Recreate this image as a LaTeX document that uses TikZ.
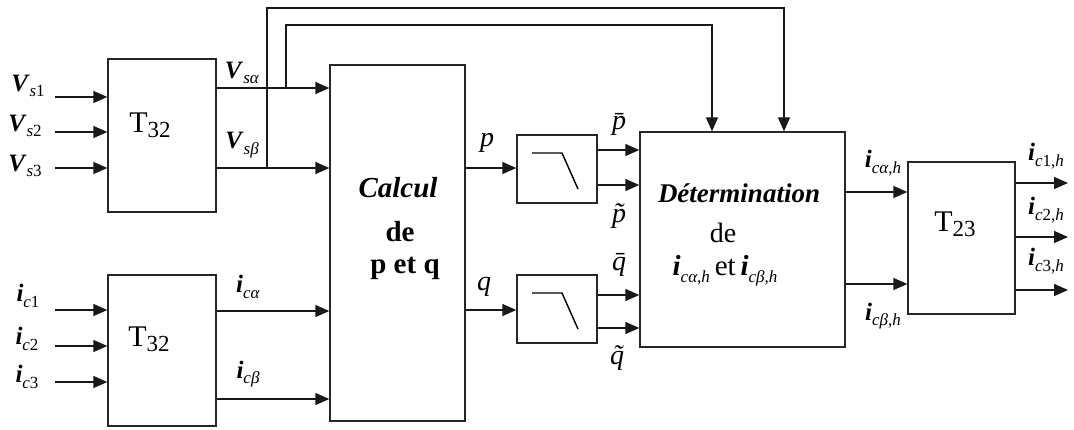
\documentclass[tikz,border=0pt]{standalone}
\usepackage{fontspec}
\setmainfont{Liberation Serif}
\usetikzlibrary{arrows.meta,calc}
\newcommand{\sig}[2]{\textbf{\textit{#1}}\raisebox{-0.5ex}{\fontsize{17}{19}\selectfont #2}}
\newcommand{\Tsub}[1]{T\raisebox{-0.35ex}{\fontsize{23}{25}\selectfont #1}}
\tikzset{
  box/.style={draw=black!85, line width=1.4pt, inner sep=0pt},
  wire/.style={line width=1.5pt, black!90},
  arr/.style={wire, -{Triangle[length=14pt,width=12pt]}},
  lab/.style={inner sep=0pt, font=\fontsize{25}{27}\selectfont},
  pq/.style={inner sep=0pt, font=\fontsize{28}{30}\selectfont\itshape},
  big/.style={inner sep=0pt, font=\fontsize{30}{32}\selectfont},
}
\begin{document}
\begin{tikzpicture}[x=1pt,y=-1pt]
\useasboundingbox (0,0) rectangle (1074,429);
% boxes
\node[box, minimum width=108, minimum height=153] (t1) at (162,135.5) {};
\node[box, minimum width=108, minimum height=151] (t2) at (162,350.5) {};
\node[box, minimum width=135, minimum height=356] (calc) at (397.5,243) {};
\node[box, minimum width=80, minimum height=68] (f1) at (557,169) {};
\node[box, minimum width=80, minimum height=68] (f2) at (557,309) {};
\node[box, minimum width=205, minimum height=215] (det) at (742.5,239.5) {};
\node[box, minimum width=107, minimum height=152] (t23) at (961.5,238) {};
% box texts
\node[big] (t1txt) at (150,125) {\Tsub{32}};
\node[big] (t2txt) at (149,339) {\Tsub{32}};
\node[big] (t23txt) at (955,224) {\Tsub{23}};
\node[big, font=\fontsize{29}{31}\selectfont\bfseries\itshape] (c1) at (398,188) {Calcul};
\node[big, font=\fontsize{29}{31}\selectfont\bfseries] (c2) at (400,232) {de};
\node[big, font=\fontsize{29}{31}\selectfont\bfseries] (c3) at (405,268) {p et q};
\node[big, font=\fontsize{27}{30}\selectfont\bfseries\itshape] (d1) at (739,193) {Détermination};
\node[big, font=\fontsize{28}{30}\selectfont] (d2) at (723,233) {de};
\node[big, font=\fontsize{29}{31}\selectfont] (d3) at (725,271) {\sig{i}{\textit{cα},\textit{h}}\,et\,\sig{i}{\textit{cβ},\textit{h}}};
% filter symbols
\draw[line width=1.4pt] ($(f1.center)+(-25,-16)$) -- ($(f1.center)+(5,-16)$) -- ($(f1.center)+(21,20)$);
\draw[line width=1.4pt] ($(f2.center)+(-25,-16)$) -- ($(f2.center)+(5,-16)$) -- ($(f2.center)+(21,20)$);
% input coordinates
\coordinate (v1) at (55,97);
\coordinate (v2) at (55,132);
\coordinate (v3) at (55,168);
\coordinate (i1) at (55,310);
\coordinate (i2) at (55,346);
\coordinate (i3) at (55,382);
\draw[arr] (v1) -- (v1 -| t1.west);
\draw[arr] (v2) -- (v2 -| t1.west);
\draw[arr] (v3) -- (v3 -| t1.west);
\draw[arr] (i1) -- (i1 -| t2.west);
\draw[arr] (i2) -- (i2 -| t2.west);
\draw[arr] (i3) -- (i3 -| t2.west);
\node[lab] (lv1) at (28,86) {\sig{V}{\textit{s}1}};
\node[lab] (lv2) at (25,126) {\sig{V}{\textit{s}2}};
\node[lab] (lv3) at (25,166) {\sig{V}{\textit{s}3}};
\node[lab] (li1) at (28,296) {\sig{i}{\textit{c}1}};
\node[lab] (li2) at (27,339) {\sig{i}{\textit{c}2}};
\node[lab] (li3) at (27,377) {\sig{i}{\textit{c}3}};
% T32 outputs
\coordinate (ya) at (0,88);
\coordinate (yb) at (0,168);
\coordinate (yc) at (0,311);
\coordinate (yd) at (0,399);
\draw[arr] (t1.east |- ya) -- (calc.west |- ya);
\draw[arr] (t1.east |- yb) -- (calc.west |- yb);
\draw[arr] (t2.east |- yc) -- (calc.west |- yc);
\draw[arr] (t2.east |- yd) -- (calc.west |- yd);
\node[lab] (lva) at (242,73) {\sig{V}{\textit{sα}}};
\node[lab] (lvb) at (242,145) {\sig{V}{\textit{sβ}}};
\node[lab] (lia) at (248,287) {\sig{i}{\textit{cα}}};
\node[lab] (lib) at (248,374) {\sig{i}{\textit{cβ}}};
% feedback wires
\coordinate (j1) at (267,168);
\coordinate (j2) at (286,88);
\coordinate (k1) at (784,8);
\coordinate (k2) at (712,25);
\draw[arr] (j1) -- (j1 |- k1) -- (k1) -- (k1 |- det.north);
\draw[arr] (j2) -- (j2 |- k2) -- (k2) -- (k2 |- det.north);
% p, q
\coordinate (yp) at (0,168);
\coordinate (yq) at (0,310);
\draw[arr] (calc.east |- yp) -- (f1.west |- yp);
\draw[arr] (calc.east |- yq) -- (f2.west |- yq);
\node[pq] (lp) at (487,143) {p};
\node[pq] (lq) at (484,287) {q};
% filter outputs
\coordinate (y1) at (0,150);
\coordinate (y2) at (0,185);
\coordinate (y3) at (0,295);
\coordinate (y4) at (0,328);
\draw[arr] (f1.east |- y1) -- (det.west |- y1);
\draw[arr] (f1.east |- y2) -- (det.west |- y2);
\draw[arr] (f2.east |- y3) -- (det.west |- y3);
\draw[arr] (f2.east |- y4) -- (det.west |- y4);
\node[pq] (lpb) at (619,124) {\=p};
\node[pq] (lpt) at (619,216) {\~p};
\node[pq] (lqb) at (619,265) {\=q};
\node[pq] (lqt) at (617,358) {\~q};
% det outputs
\coordinate (y5) at (0,192);
\coordinate (y6) at (0,284);
\draw[arr] (det.east |- y5) -- (t23.west |- y5);
\draw[arr] (det.east |- y6) -- (t23.west |- y6);
\node[lab] (lha) at (883,163) {\sig{i}{\textit{cα},\textit{h}}};
\node[lab] (lhb) at (883,316) {\sig{i}{\textit{cβ},\textit{h}}};
% T23 outputs
\coordinate (o1) at (1068,183);
\coordinate (o2) at (1068,237);
\coordinate (o3) at (1068,290);
\draw[arr] (t23.east |- o1) -- (o1);
\draw[arr] (t23.east |- o2) -- (o2);
\draw[arr] (t23.east |- o3) -- (o3);
\node[lab] (lo1) at (1046,156) {\sig{i}{\textit{c}1,\textit{h}}};
\node[lab] (lo2) at (1046,210) {\sig{i}{\textit{c}2,\textit{h}}};
\node[lab] (lo3) at (1046,261) {\sig{i}{\textit{c}3,\textit{h}}};
\end{tikzpicture}
\end{document}
